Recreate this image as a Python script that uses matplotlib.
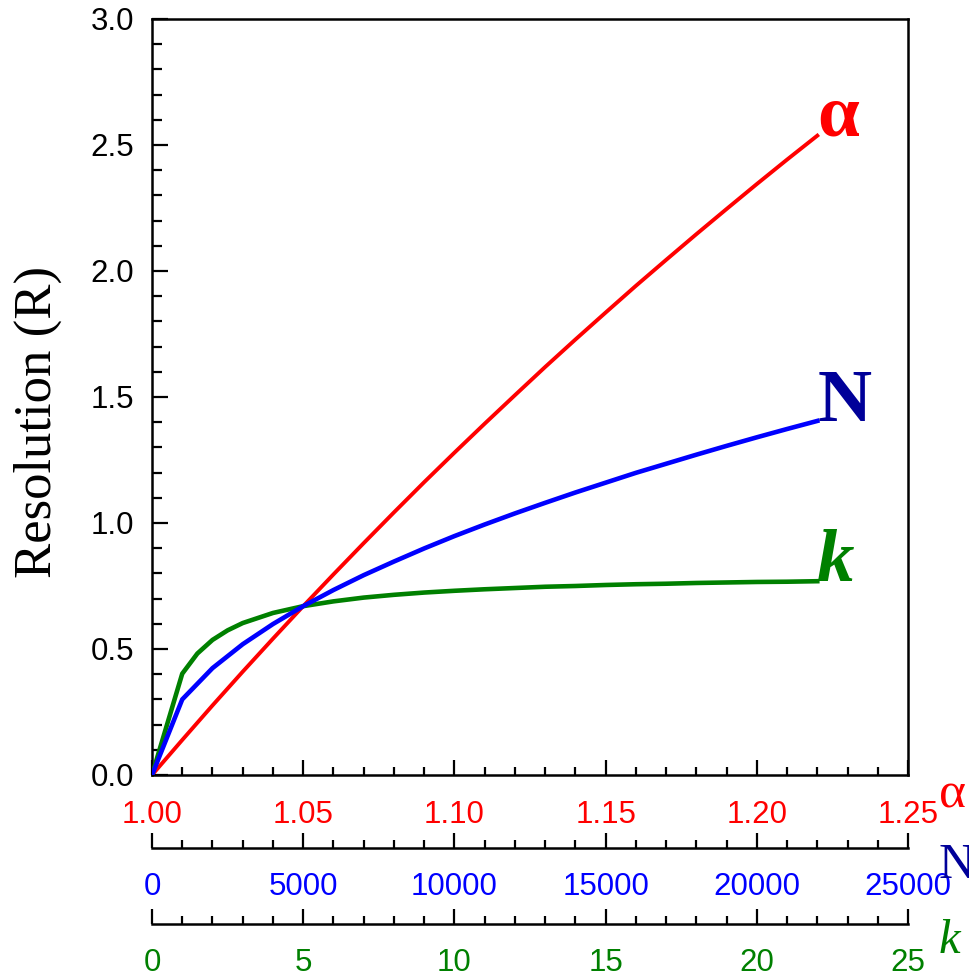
import matplotlib.pyplot as plt
from matplotlib.ticker import MultipleLocator, FormatStrFormatter

# --- data ---
alpha = [1.00, 1.01, 1.02, 1.03, 1.04, 1.05, 1.06, 1.07, 1.08, 1.09, 1.10, 1.11,
         1.12, 1.13, 1.14, 1.15, 1.16, 1.17, 1.18, 1.19, 1.20, 1.21, 1.22]
R_alpha = [0.0, 0.139, 0.276, 0.410, 0.541, 0.670, 0.796, 0.920, 1.042, 1.162, 1.279, 1.394,
           1.507, 1.619, 1.728, 1.835, 1.941, 2.044, 2.146, 2.246, 2.345, 2.442, 2.537]

N = [0, 1000, 2000, 3000, 4000, 5000, 6000, 7000, 8000, 9000, 10000, 11000,
     12000, 13000, 14000, 15000, 16000, 17000, 18000, 19000, 20000, 21000, 22000]
R_N = [0.0, 0.300, 0.424, 0.519, 0.599, 0.670, 0.734, 0.793, 0.847, 0.899, 0.948, 0.994,
       1.038, 1.080, 1.121, 1.160, 1.199, 1.235, 1.271, 1.306, 1.340, 1.373, 1.405]

k = [0, 1, 1.5, 2, 2.5, 3, 4, 5, 6, 7, 8, 9, 10, 11, 12, 13, 14, 15, 16, 17, 18, 19, 20, 21, 22]
R_k = [0.0, 0.402, 0.482, 0.536, 0.574, 0.603, 0.643, 0.670, 0.689, 0.704, 0.715, 0.724,
       0.731, 0.737, 0.742, 0.747, 0.750, 0.754, 0.757, 0.759, 0.762, 0.764, 0.766, 0.767, 0.769]

RED = '#ff0000'
BLUE = '#0000ff'
GREEN = '#008000'
NAVY = '#000099'

plt.rcParams['font.family'] = ['Liberation Sans', 'DejaVu Sans']
TICK_SIZE = 22.5
serif = ['Liberation Serif', 'DejaVu Serif']

W, H = 969, 977
fig = plt.figure(figsize=(W / 100, H / 100), dpi=100)
ax = fig.add_axes([152 / W, 1 - 775 / H, 756 / W, 756 / H])

for s in ax.spines.values():
    s.set_linewidth(1.8)

# main alpha axis
ax.plot(alpha, R_alpha, color=RED, lw=2.8)
ax.set_xlim(1.00, 1.25)
ax.set_ylim(0, 3.0)
ax.xaxis.set_major_locator(MultipleLocator(0.05))
ax.xaxis.set_minor_locator(MultipleLocator(0.01))
ax.yaxis.set_major_locator(MultipleLocator(0.5))
ax.yaxis.set_minor_locator(MultipleLocator(0.1))
ax.xaxis.set_major_formatter(FormatStrFormatter('%.2f'))
ax.yaxis.set_major_formatter(FormatStrFormatter('%.1f'))
ax.tick_params(axis='x', which='both', direction='in', top=False, width=1.6)
ax.tick_params(axis='x', which='major', length=11, pad=18, labelcolor=RED,
               labelsize=TICK_SIZE)
ax.tick_params(axis='x', which='minor', length=6)
ax.tick_params(axis='y', which='both', direction='in', right=False, width=1.6)
ax.tick_params(axis='y', which='major', length=11.5, pad=13, labelsize=TICK_SIZE)
ax.tick_params(axis='y', which='minor', length=7)


def extra_axis(xmax, major, minor, pos, color):
    a = ax.twiny()
    a.set_xlim(0, xmax)
    a.xaxis.set_ticks_position('bottom')
    a.spines['bottom'].set_position(('axes', pos))
    a.spines['bottom'].set_linewidth(1.8)
    for s in ['top', 'left', 'right']:
        a.spines[s].set_visible(False)
    a.xaxis.set_major_locator(MultipleLocator(major))
    a.xaxis.set_minor_locator(MultipleLocator(minor))
    a.tick_params(axis='x', which='both', direction='in', width=1.6)
    a.tick_params(axis='x', which='major', length=11, pad=17, labelcolor=color,
                  labelsize=TICK_SIZE)
    a.tick_params(axis='x', which='minor', length=6)
    return a


ax_k = extra_axis(25, 5, 1, -0.197, GREEN)
ax_k.plot(k, R_k, color=GREEN, lw=3.3)
ax_N = extra_axis(25000, 5000, 1000, -0.0966, BLUE)
ax_N.plot(N, R_N, color=BLUE, lw=3.3)

# curve labels at the line ends
ax.text(alpha[-1], R_alpha[-1], r'α', color=RED, fontsize=54, fontweight='bold',
        family=serif, ha='left', va='baseline')
ax_N.text(N[-1], R_N[-1], 'N', color=NAVY, fontsize=54, fontweight='bold',
          family=serif, ha='left', va='baseline')
ax_k.text(k[-1], R_k[-1], 'k', color=GREEN, fontsize=54, fontweight='bold',
          fontstyle='italic', family=serif, ha='left', va='baseline')

# axis names at the right end of each x scale
fig.text(939 / W, 1 - 807 / H, 'α', color=RED, fontsize=37, family=serif, va='baseline')
fig.text(939 / W, 1 - 878 / H, 'N', color=NAVY, fontsize=36, family=serif, va='baseline')
fig.text(939 / W, 1 - 953 / H, 'k', color=GREEN, fontsize=35, family=serif,
         fontstyle='italic', va='baseline')

fig.text(38 / W, 1 - 422 / H, 'Resolution (R)', rotation=90, fontsize=38,
         family=serif, ha='center', va='center')

fig.savefig('out.png', dpi=100)
